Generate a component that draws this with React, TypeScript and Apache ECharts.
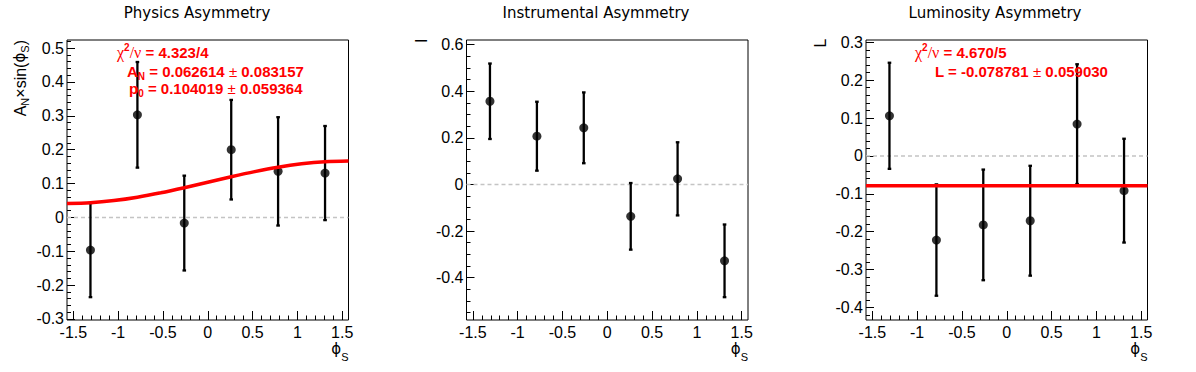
import React, { useEffect, useRef } from 'react';
import * as echarts from 'echarts';

// ---------- data ----------
const X_MIN = -Math.PI / 2;
const X_MAX = Math.PI / 2;
const BIN_CENTERS = [-1.309, -0.785, -0.262, 0.262, 0.785, 1.309];
const X_TICKS = [-1.5, -1, -0.5, 0, 0.5, 1, 1.5];

const PHYS_Y = [-0.0965, 0.303, -0.0167, 0.2, 0.136, 0.131];
const PHYS_ERR = [0.139, 0.156, 0.14, 0.147, 0.16, 0.139];
const PHYS_FIT_X = [-1.571, -1.309, -1.047, -0.785, -0.524, -0.262, 0, 0.262, 0.524, 0.785, 1.047, 1.309, 1.571];
const PHYS_FIT_Y = [0.0414, 0.0435, 0.0498, 0.0597, 0.0727, 0.0878, 0.104, 0.1202, 0.1353, 0.1483, 0.1582, 0.1645, 0.1666];
const PHYS_YRANGE = [-0.303, 0.524];
const PHYS_YTICKS = [-0.3, -0.2, -0.1, 0, 0.1, 0.2, 0.3, 0.4, 0.5];

const INST_Y = [0.357, 0.207, 0.243, -0.137, 0.024, -0.328];
const INST_ERR = [0.162, 0.148, 0.152, 0.143, 0.157, 0.156];
const INST_YRANGE = [-0.582, 0.62];
const INST_YTICKS = [-0.4, -0.2, 0, 0.2, 0.4, 0.6];

const LUMI_Y = [0.106, -0.222, -0.182, -0.171, 0.084, -0.0916];
const LUMI_ERR = [0.14, 0.147, 0.146, 0.145, 0.158, 0.137];
const LUMI_FIT = -0.078781;
const LUMI_YRANGE = [-0.433, 0.306];
const LUMI_YTICKS = [-0.4, -0.3, -0.2, -0.1, 0, 0.1, 0.2, 0.3];

const TITLES = ['Physics Asymmetry', 'Instrumental Asymmetry', 'Luminosity Asymmetry'];

// ---------- layout ----------
const GRID_LEFT = [67, 466.5, 866];
const GRID_TOP = 40;
const GRID_W = 281.5;
const GRID_H = 280;
const FONT = 'Liberation Sans';
const RED = '#ff0000';

function minorTicks(min: number, max: number, step: number): number[] {
  const out: number[] = [];
  const k0 = Math.ceil(min / step - 1e-9);
  const k1 = Math.floor(max / step + 1e-9);
  for (let k = k0; k <= k1; k++) out.push(Number((k * step).toFixed(4)));
  return out;
}

const fmt = (v: number) => String(Number(Number(v).toFixed(3)));

function buildOption() {
  const panels = [
    { y: PHYS_Y, err: PHYS_ERR, yr: PHYS_YRANGE, yt: PHYS_YTICKS, ym: 0.02 },
    { y: INST_Y, err: INST_ERR, yr: INST_YRANGE, yt: INST_YTICKS, ym: 0.05 },
    { y: LUMI_Y, err: LUMI_ERR, yr: LUMI_YRANGE, yt: LUMI_YTICKS, ym: 0.02 },
  ];
  const grid: any[] = [];
  const xAxis: any[] = [];
  const yAxis: any[] = [];
  const series: any[] = [];
  const tickStyle = { color: '#000', width: 1 };

  panels.forEach((p, i) => {
    grid.push({
      left: GRID_LEFT[i], top: GRID_TOP, width: GRID_W, height: GRID_H,
      show: true, borderColor: '#000', borderWidth: 1, backgroundColor: 'rgba(0,0,0,0)',
    });
    xAxis.push({
      type: 'value', gridIndex: i, min: X_MIN, max: X_MAX, position: 'bottom',
      axisLine: { show: false, onZero: false }, splitLine: { show: false },
      axisTick: { show: true, inside: true, length: 9, customValues: X_TICKS, lineStyle: tickStyle },
      axisLabel: { customValues: X_TICKS, formatter: fmt, fontSize: 16, fontFamily: FONT, color: '#000', margin: 4 },
    });
    xAxis.push({
      type: 'value', gridIndex: i, min: X_MIN, max: X_MAX, position: 'bottom',
      axisLine: { show: false, onZero: false }, splitLine: { show: false },
      axisLabel: { show: false },
      axisTick: { show: true, inside: true, length: 4.5, customValues: minorTicks(-1.5, 1.5, 0.1), lineStyle: tickStyle },
    });
    yAxis.push({
      type: 'value', gridIndex: i, min: p.yr[0], max: p.yr[1], position: 'left',
      axisLine: { show: false, onZero: false }, splitLine: { show: false },
      axisTick: { show: true, inside: true, length: 8, customValues: p.yt, lineStyle: tickStyle },
      axisLabel: { customValues: p.yt, formatter: fmt, fontSize: 16, fontFamily: FONT, color: '#000', margin: 3 },
    });
    yAxis.push({
      type: 'value', gridIndex: i, min: p.yr[0], max: p.yr[1], position: 'left',
      axisLine: { show: false, onZero: false }, splitLine: { show: false },
      axisLabel: { show: false },
      axisTick: { show: true, inside: true, length: 4, customValues: minorTicks(p.yr[0], p.yr[1], p.ym), lineStyle: tickStyle },
    });
    const xi = i * 2, yi = i * 2;
    series.push({
      type: 'line', xAxisIndex: xi, yAxisIndex: yi, data: [[X_MIN, 0], [X_MAX, 0]],
      symbol: 'none', silent: true, z: 1,
      lineStyle: { color: '#c4c4c4', width: 1.5, type: [4, 3] },
    });
    series.push({
      type: 'custom', xAxisIndex: xi, yAxisIndex: yi, z: 3,
      data: BIN_CENTERS.map((x, k) => [x, p.y[k], p.err[k]]),
      encode: { x: 0, y: 1 },
      renderItem: (_params: any, api: any) => {
        const x = api.value(0), y = api.value(1), e = api.value(2);
        const t = api.coord([x, y + e]);
        const b = api.coord([x, y - e]);
        const cw = 1.8;
        const st = { stroke: '#000', lineWidth: 2.3 };
        return {
          type: 'group',
          children: [
            { type: 'line', shape: { x1: t[0], y1: t[1], x2: b[0], y2: b[1] }, style: st },
            { type: 'line', shape: { x1: t[0] - cw, y1: t[1], x2: t[0] + cw, y2: t[1] }, style: st },
            { type: 'line', shape: { x1: b[0] - cw, y1: b[1], x2: b[0] + cw, y2: b[1] }, style: st },
          ],
        };
      },
    });
    series.push({
      type: 'scatter', xAxisIndex: xi, yAxisIndex: yi, z: 4,
      data: BIN_CENTERS.map((x, k) => [x, p.y[k]]),
      symbol: 'circle', symbolSize: 9, itemStyle: { color: '#000' },
    });
  });

  series.push({
    type: 'line', xAxisIndex: 0, yAxisIndex: 0, z: 5, smooth: 0.3,
    data: PHYS_FIT_X.map((x, k) => [x, PHYS_FIT_Y[k]]),
    symbol: 'none', lineStyle: { color: RED, width: 3.5 },
  });
  series.push({
    type: 'line', xAxisIndex: 4, yAxisIndex: 4, z: 5,
    data: [[X_MIN, LUMI_FIT], [X_MAX, LUMI_FIT]],
    symbol: 'none', lineStyle: { color: RED, width: 3.5 },
  });

  const RICH_FIT = {
    g: { fontFamily: 'Liberation Serif', fontSize: 16, fill: RED, lineHeight: 20 },
    sup: { fontFamily: FONT, fontWeight: 'bold', fontSize: 10, fill: RED, lineHeight: 10, verticalAlign: 'top' },
    b: { fontFamily: FONT, fontWeight: 'bold', fontSize: 15, fill: RED, lineHeight: 20 },
    sub: { fontFamily: FONT, fontWeight: 'bold', fontSize: 10, fill: RED, lineHeight: 10, verticalAlign: 'bottom' },
    pm: { fontFamily: FONT, fontSize: 15, fill: RED, lineHeight: 20 },
  };
  const fitText = (x: number, y: number, text: string) => ({
    type: 'text', x, y, z: 100,
    style: { text, rich: RICH_FIT, align: 'left', verticalAlign: 'middle' },
  });
  const RICH_AX = {
    t: { fontFamily: FONT, fontSize: 16, fill: '#000', lineHeight: 20 },
    f: { fontFamily: 'DejaVu Sans', fontSize: 15, fill: '#000', lineHeight: 20 },
    p: { fontFamily: 'DejaVu Sans', fontSize: 15, fill: '#000', lineHeight: 26 },
    s: { fontFamily: FONT, fontSize: 11, fill: '#000', lineHeight: 11, verticalAlign: 'bottom' },
  };

  const graphic: any[] = [];
  const titleX = [197, 596, 995];
  TITLES.forEach((t, i) => {
    graphic.push({
      type: 'text', x: titleX[i], y: 13,
      style: { text: t, fontFamily: 'DejaVu Sans', fontSize: 15, fill: '#000', align: 'center', verticalAlign: 'middle' },
    });
    graphic.push({
      type: 'text', x: GRID_LEFT[i] + GRID_W, y: 349,
      style: { text: '{p|ϕ}{s|S}', rich: RICH_AX, align: 'right', verticalAlign: 'middle' },
    });
  });
  graphic.push({
    type: 'text', x: 20, y: 40, rotation: Math.PI / 2,
    style: { text: '{t|A}{s|N}{t|×sin(}{f|ϕ}{s|S}{t|)}', rich: RICH_AX, align: 'right', verticalAlign: 'middle' },
  });
  graphic.push({
    type: 'text', x: 421, y: 38.5, rotation: Math.PI / 2,
    style: { text: 'I', fontFamily: FONT, fontSize: 16, fill: '#000', align: 'right', verticalAlign: 'middle' },
  });
  graphic.push({
    type: 'text', x: 820, y: 38.5, rotation: Math.PI / 2,
    style: { text: 'L', fontFamily: FONT, fontSize: 16, fill: '#000', align: 'right', verticalAlign: 'middle' },
  });
  graphic.push(fitText(117, 52, '{g|χ}{sup|2}{g|/ν}{b| = 4.323/4}'));
  graphic.push(fitText(127, 71, '{b|A}{sub|N}{b| = 0.062614 }{pm|±}{b| 0.083157}'));
  graphic.push(fitText(129, 88, '{b|p}{sub|0}{b| = 0.104019 }{pm|±}{b| 0.059364}'));
  graphic.push(fitText(915, 52, '{g|χ}{sup|2}{g|/ν}{b| = 4.670/5}'));
  graphic.push(fitText(935, 71, '{b|L = -0.078781 }{pm|±}{b| 0.059030}'));

  return {
    animation: false,
    backgroundColor: '#fff',
    grid, xAxis, yAxis, series, graphic,
  };
}

export default function App() {
  const ref = useRef<HTMLDivElement>(null);
  useEffect(() => {
    document.body.style.margin = '0';
    const chart = echarts.init(ref.current!, null, { renderer: 'svg' });
    chart.setOption(buildOption() as any);
    return () => chart.dispose();
  }, []);
  return <div ref={ref} style={{ width: 1196, height: 372 }} />;
}
